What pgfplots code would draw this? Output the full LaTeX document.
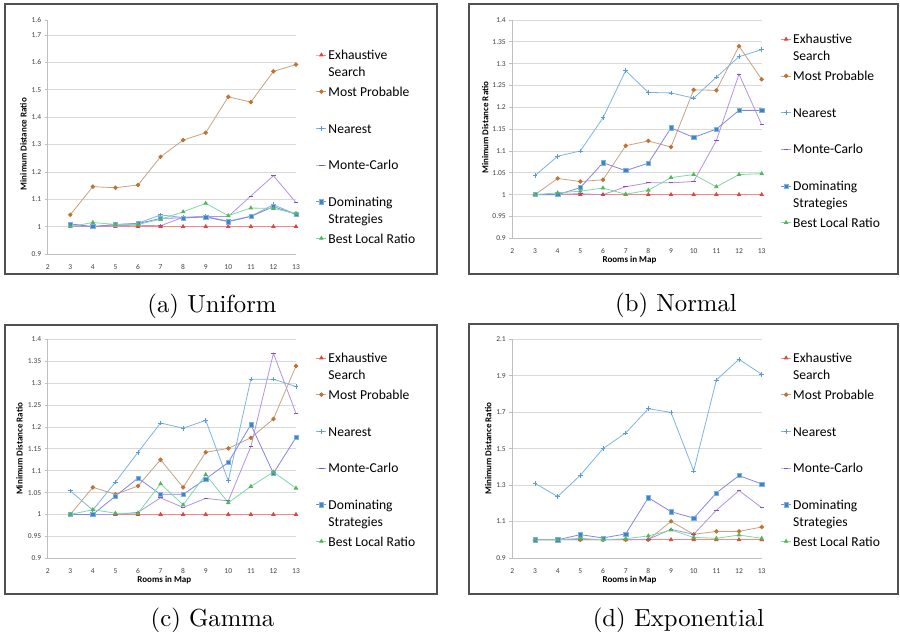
\documentclass[border=0pt]{standalone}
\usepackage{pgfplots}
\usepackage{pgfplotstable}
\pgfplotsset{compat=1.18}
\usepackage{fontspec}
\newfontfamily\carlito{Carlito}
\newfontfamily\capfont{lmroman10-regular.otf}
\definecolor{exhL}{HTML}{F08A84}
\definecolor{exhM}{HTML}{E0463C}
\definecolor{mpL}{HTML}{C8A284}
\definecolor{mpM}{HTML}{C0732F}
\definecolor{nrL}{HTML}{7DB4E2}
\definecolor{nrM}{HTML}{5A9AD6}
\definecolor{mcL}{HTML}{B593E0}
\definecolor{mcM}{HTML}{8450C0}
\definecolor{dmL}{HTML}{8585E6}
\definecolor{dmM}{HTML}{3F83C6}
\definecolor{blL}{HTML}{7ADBA5}
\definecolor{blM}{HTML}{56B45A}
\definecolor{gridc}{HTML}{D9D9D9}
\definecolor{axc}{HTML}{BFBFBF}
\definecolor{txt}{HTML}{404040}
\definecolor{framec}{HTML}{505050}

\newcommand\LE[1]{\parbox[t]{110pt}{\raggedright #1}}
\newcommand\labfont{\fontsize{9}{11}\selectfont\carlito\bfseries}

\pgfplotstableread{
x EX MP NR MC DM BL
3 1 1.043 1.008 1.002 1.010 1.000
4 1 1.146 1.000 1.000 1.000 1.015
5 1 1.142 1.007 1.004 1.008 1.008
6 1 1.152 1.012 1.005 1.011 1.008
7 1 1.255 1.043 1.003 1.030 1.027
8 1 1.316 1.033 1.034 1.032 1.054
9 1 1.343 1.037 1.037 1.035 1.085
10 1 1.474 1.020 1.037 1.018 1.040
11 1 1.455 1.038 1.112 1.037 1.068
12 1 1.567 1.080 1.186 1.073 1.066
13 1 1.592 1.045 1.088 1.045 1.048
}\tabA
\pgfplotstableread{
x EX MP NR MC DM BL
3 1 1.000 1.0435 1.000 1.000 1.000
4 1 1.037 1.088 1.001 1.000 1.004
5 1 1.030 1.100 1.002 1.016 1.008
6 1 1.034 1.176 1.000 1.073 1.015
7 1 1.112 1.284 1.018 1.055 1.001
8 1 1.123 1.234 1.027 1.072 1.010
9 1 1.109 1.233 1.027 1.153 1.039
10 1 1.240 1.221 1.030 1.131 1.046
11 1 1.239 1.269 1.124 1.150 1.018
12 1 1.340 1.316 1.276 1.193 1.046
13 1 1.264 1.332 1.160 1.193 1.048
}\tabB
\pgfplotstableread{
x EX MP NR MC DM BL
3 1 1.000 1.054 1.000 1.000 1.000
4 1 1.062 1.010 1.000 1.000 1.011
5 1 1.046 1.074 1.000 1.042 1.003
6 1 1.065 1.142 1.005 1.083 1.003
7 1 1.125 1.209 1.038 1.046 1.070
8 1 1.062 1.197 1.016 1.046 1.022
9 1 1.142 1.215 1.037 1.081 1.091
10 1 1.151 1.077 1.031 1.119 1.027
11 1 1.175 1.309 1.155 1.205 1.064
12 1 1.218 1.309 1.368 1.094 1.097
13 1 1.339 1.292 1.231 1.176 1.060
}\tabC
\pgfplotstableread{
x EX MP NR MC DM BL
3 1 1.000 1.310 1.000 1.000 1.000
4 1 1.000 1.237 1.000 1.000 1.000
5 1 1.000 1.354 1.000 1.028 1.008
6 1 1.000 1.500 1.000 1.010 1.000
7 1 1.000 1.586 1.000 1.032 1.006
8 1 1.000 1.719 1.003 1.231 1.021
9 1 1.101 1.699 1.057 1.154 1.054
10 1 1.030 1.378 1.030 1.119 1.013
11 1 1.046 1.877 1.162 1.257 1.008
12 1 1.046 1.990 1.270 1.352 1.026
13 1 1.070 1.908 1.176 1.306 1.008
}\tabD

\pgfplotsset{
  exh/.style={exhL, line width=0.8pt, mark=triangle*, mark size=1.9pt, mark options={fill=exhM, draw=exhM, solid}},
  mp/.style={mpL, line width=0.8pt, mark=*, mark size=1.8pt, mark options={fill=mpM, draw=mpM, solid}},
  nr/.style={nrL, line width=0.8pt, mark=+, mark size=2.3pt, mark options={draw=nrM, solid, line width=0.7pt}},
  mc/.style={mcL, line width=0.8pt, mark=-, mark size=2.2pt, mark options={draw=mcM, solid, line width=0.9pt}},
  dm/.style={dmL, line width=0.8pt, mark=square*, mark size=2.1pt, mark options={fill=dmM, draw=nrL, solid, line width=0.5pt}},
  bl/.style={blL, line width=0.8pt, mark=triangle*, mark size=1.9pt, mark options={fill=blM, draw=blM, solid}},
  base/.style={
    scale only axis, xmin=2, xmax=13, xtick={2,...,13},
    axis x line=bottom, axis y line=left, axis line style={draw=axc, line width=0.8pt, -},
    ymajorgrids, major grid style={draw=gridc, line width=0.7pt},
    xtick style={draw=none}, ytick style={draw=axc, line width=0.7pt}, tick align=outside, major tick length=3pt,
    /pgf/number format/assume math mode=true,
    tick label style={font=\fontsize{7.5}{9}\selectfont\carlito, text=txt},
    xticklabel style={yshift=-4pt},
    every axis x label/.style={at={(axis description cs:0.5,0)}, anchor=base, yshift=-24.7pt, xshift=-7.5pt, font=\labfont, text=black},
    legend style={draw=none, fill=none, anchor=north west, inner sep=0pt, outer sep=0pt, row sep=0pt, column sep=1.7pt,
       font=\fontsize{13.6}{16.7}\selectfont\carlito,
       cells={anchor=base west},
       nodes={inner sep=0pt, text height=11.69pt, text depth=24.98pt}},
    legend image code/.code={\draw[##1, mark repeat=2, mark phase=2] plot coordinates {(0pt,4.7pt) (5pt,4.7pt) (10pt,4.7pt)};},
  },
  ylab/.style 2 args={every axis y label/.style={at={(axis description cs:0,#2)}, xshift=-#1, rotate=90, anchor=base, font=\labfont, text=black}}
}

\begin{document}
\begin{tikzpicture}
\path[use as bounding box] (0,0) rectangle (900pt,639pt);
\fill[white] (0,0) rectangle (900pt,639pt);
% frames
\draw[framec, line width=1.4pt] (5pt,635pt) rectangle (437pt,365pt);
\draw[framec, line width=1.4pt] (469pt,635pt) rectangle (898pt,365pt);
\draw[framec, line width=1.4pt] (5pt,314pt) rectangle (437pt,45pt);
\draw[framec, line width=1.4pt] (469pt,315pt) rectangle (898pt,45pt);

% (a)
\begin{axis}[base, at={(47.7pt,385pt)}, anchor=south west, width=248.3pt, height=234pt,
  ymin=0.9, ymax=1.7548, ytick={0.9,1,1.1,1.2,1.3,1.4,1.5,1.6,1.7},
  yticklabels={0.9,1,1.1,1.2,1.3,1.4,1.5,1.6,1.7},
  extra y ticks={1.7548}, extra y tick labels={1.6}, extra y tick style={grid=none},
  ylab={21pt}{0.47}, ylabel={Minimum Distance Ratio},
  legend style={at={(1.0805,0.8803)}}]
\addplot[exh] table[x=x,y=EX]{\tabA};
\addplot[mp] table[x=x,y=MP]{\tabA};
\addplot[nr] table[x=x,y=NR]{\tabA};
\addplot[mc] table[x=x,y=MC]{\tabA};
\addplot[dm] table[x=x,y=DM]{\tabA};
\addplot[bl] table[x=x,y=BL]{\tabA};
\legend{\LE{Exhaustive\\Search},\LE{Most Probable},\LE{Nearest},\LE{Monte-Carlo},\LE{Dominating\\Strategies},\LE{Best Local Ratio}}
\end{axis}

% (b)
\begin{axis}[base, at={(512.3pt,400.7pt)}, anchor=south west, width=249.4pt, height=218.3pt,
  ymin=0.9, ymax=1.4, ytick={0.9,0.95,1,1.05,1.1,1.15,1.2,1.25,1.3,1.35,1.4},
  yticklabels={0.9,0.95,1,1.05,1.1,1.15,1.2,1.25,1.3,1.35,1.4},
  ylab={24pt}{0.507}, ylabel={Minimum Distance Ratio}, xlabel={Rooms in Map},
  legend style={at={(1.0762,0.9437)}}]
\addplot[exh] table[x=x,y=EX]{\tabB};
\addplot[mp] table[x=x,y=MP]{\tabB};
\addplot[nr] table[x=x,y=NR]{\tabB};
\addplot[mc] table[x=x,y=MC]{\tabB};
\addplot[dm] table[x=x,y=DM]{\tabB};
\addplot[bl] table[x=x,y=BL]{\tabB};
\legend{\LE{Exhaustive\\Search},\LE{Most Probable},\LE{Nearest},\LE{Monte-Carlo},\LE{Dominating\\Strategies},\LE{Best Local Ratio}}
\end{axis}

% (c)
\begin{axis}[base, at={(47.7pt,80.7pt)}, anchor=south west, width=248.3pt, height=219pt,
  ymin=0.9, ymax=1.4, ytick={0.9,0.95,1,1.05,1.1,1.15,1.2,1.25,1.3,1.35,1.4},
  yticklabels={0.9,0.95,1,1.05,1.1,1.15,1.2,1.25,1.3,1.35,1.4},
  ylab={25pt}{0.5}, ylabel={Minimum Distance Ratio}, xlabel={Rooms in Map},
  legend style={at={(1.0805,0.9466)}}]
\addplot[exh] table[x=x,y=EX]{\tabC};
\addplot[mp] table[x=x,y=MP]{\tabC};
\addplot[nr] table[x=x,y=NR]{\tabC};
\addplot[mc] table[x=x,y=MC]{\tabC};
\addplot[dm] table[x=x,y=DM]{\tabC};
\addplot[bl] table[x=x,y=BL]{\tabC};
\legend{\LE{Exhaustive\\Search},\LE{Most Probable},\LE{Nearest},\LE{Monte-Carlo},\LE{Dominating\\Strategies},\LE{Best Local Ratio}}
\end{axis}

% (d)
\begin{axis}[base, at={(512.3pt,81pt)}, anchor=south west, width=249.4pt, height=218.7pt,
  ymin=0.9, ymax=2.1, ytick={0.9,1.1,1.3,1.5,1.7,1.9,2.1},
  yticklabels={0.9,1.1,1.3,1.5,1.7,1.9,2.1},
  ylab={21pt}{0.5}, ylabel={Minimum Distance Ratio}, xlabel={Rooms in Map},
  legend style={at={(1.0762,0.9465)}}]
\addplot[exh] table[x=x,y=EX]{\tabD};
\addplot[mp] table[x=x,y=MP]{\tabD};
\addplot[nr] table[x=x,y=NR]{\tabD};
\addplot[mc] table[x=x,y=MC]{\tabD};
\addplot[dm] table[x=x,y=DM]{\tabD};
\addplot[bl] table[x=x,y=BL]{\tabD};
\legend{\LE{Exhaustive\\Search},\LE{Most Probable},\LE{Nearest},\LE{Monte-Carlo},\LE{Dominating\\Strategies},\LE{Best Local Ratio}}
\end{axis}

% captions
\node[anchor=base, font={\fontsize{24.7}{30}\capfont}] at (212pt,326pt) {(a) Uniform};
\node[anchor=base, font={\fontsize{24.7}{30}\capfont}] at (676pt,327pt) {(b) Normal};
\node[anchor=base, font={\fontsize{24.7}{30}\capfont}] at (212.5pt,12pt) {(c) Gamma};
\node[anchor=base, font={\fontsize{24.7}{30}\capfont}] at (678.5pt,12pt) {(d) Exponential};
\end{tikzpicture}
\end{document}
